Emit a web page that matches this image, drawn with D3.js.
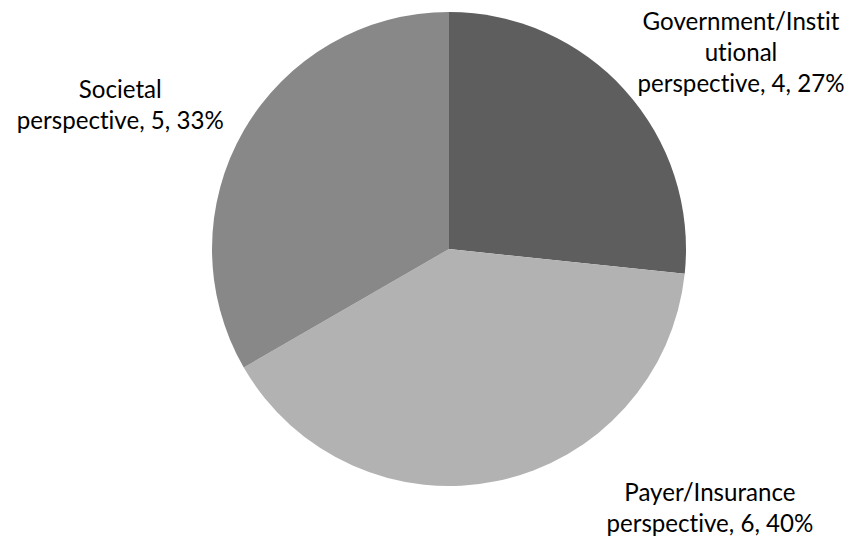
<!DOCTYPE html>
<html>
<head>
<meta charset="utf-8">
<script src="https://cdn.jsdelivr.net/npm/d3@7"></script>
<style>
  html, body { margin: 0; padding: 0; background: #ffffff; }
  svg { display: block; }
  text { font-family: Lato, "Open Sans", "Liberation Sans", sans-serif; fill: #000000;
         font-variant-ligatures: none; font-feature-settings: "liga" 0; }
</style>
</head>
<body>
<svg id="chart" width="852" height="542"></svg>
<script>
// Study perspectives: number of studies per perspective
const categories = ["Government/Institutional perspective", "Payer/Insurance perspective", "Societal perspective"];
const values = [4, 6, 5];
// Label text as wrapped on the chart (the last line gets ", value, pct%")
const labelLines = [
  ["Government/Instit", "utional", "perspective"],
  ["Payer/Insurance", "perspective"],
  ["Societal", "perspective"]
];
const colors = ["#5e5e5e", "#b2b2b2", "#888888"];

const W = 852, H = 542;
const cx = 449, cy = 249, R = 237;
// label block placement: first baseline relative to pie centre, in radii
const labelLayout = [
  { dx: 1.232, dy: -0.926 },
  { dx: 1.101, dy: 1.063 },
  { dx: -1.387, dy: -0.637 }
];
const lineH = 31;

const svg = d3.select("#chart");
const g = svg.append("g").attr("transform", `translate(${cx},${cy})`);

const total = d3.sum(values);
const data = categories.map((c, i) => ({ name: c, value: values[i], i }));

const pie = d3.pie().sort(null).value(d => d.value);
const arc = d3.arc().innerRadius(0).outerRadius(R);

const arcs = pie(data);
g.selectAll("path.slice")
  .data(arcs)
  .join("path")
  .attr("class", "slice")
  .attr("d", arc)
  .attr("fill", d => colors[d.data.i]);

// fit font size so a value line has the measured width
const probe = svg.append("text").attr("font-size", 100).text("perspective, 4, 27%");
const probeW = probe.node().getComputedTextLength();
probe.remove();
const fontSize = 100 * 207 / probeW;

arcs.forEach(a => {
  const i = a.data.i;
  const pct = Math.round(a.data.value / total * 100);
  const lines = labelLines[i].slice();
  lines[lines.length - 1] = `${lines[lines.length - 1]}, ${a.data.value}, ${pct}%`;
  const lay = labelLayout[i];
  const t = g.append("text")
    .attr("text-anchor", "middle")
    .attr("font-size", fontSize)
    .attr("x", lay.dx * R)
    .attr("y", lay.dy * R);
  lines.forEach((ln, k) => {
    t.append("tspan")
      .attr("x", lay.dx * R)
      .attr("y", lay.dy * R + k * lineH)
      .text(ln);
  });
});
</script>
</body>
</html>
